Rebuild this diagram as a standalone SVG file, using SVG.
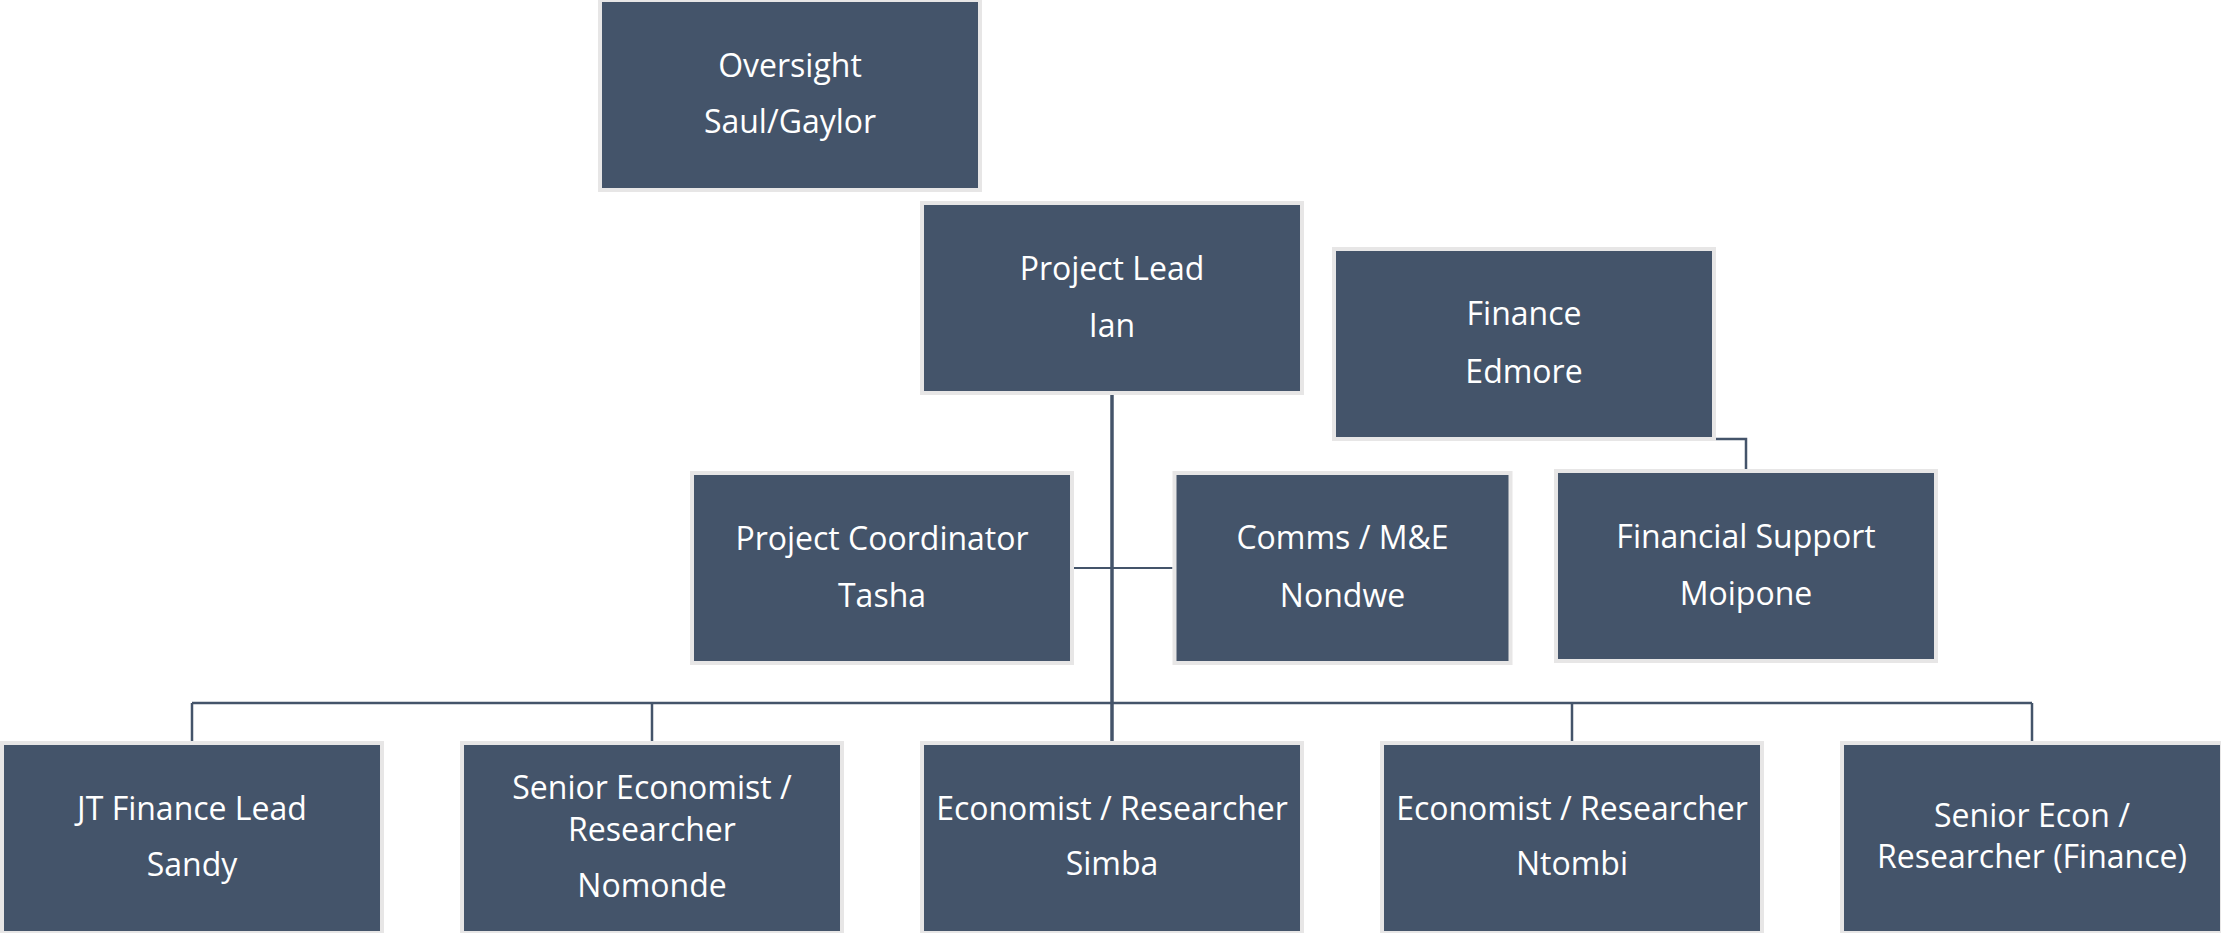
<svg xmlns="http://www.w3.org/2000/svg" width="2221" height="933" viewBox="0 0 2221 933">
<style>
  .box { fill: #44546A; stroke: #E7E6E6; stroke-width: 4; }
  .t { fill: #FFFFFF; font-family: "Open Sans", "Liberation Sans", sans-serif; font-size: 32px; text-anchor: middle; }
  .ln { fill: none; stroke: #44546A; stroke-width: 2.5; }
</style>
<rect width="2221" height="933" fill="#FFFFFF"/>
<g id="connectors">
  <path class="ln" d="M1112 395 V743" style="stroke-width:3.5"/>
  <path class="ln" d="M1074 568 H1172.5" style="stroke-width:2"/>
  <path class="ln" d="M192 703 H2032"/>
  <path class="ln" d="M192 703 V741"/>
  <path class="ln" d="M652 703 V741"/>
  <path class="ln" d="M1572 703 V741"/>
  <path class="ln" d="M2032 703 V741"/>
  <path class="ln" d="M1715 439 H1746 V469"/>
</g>
<g id="oversight">
  <rect class="box" x="600" y="0" width="380" height="190"/>
  <text class="t" x="790" y="77">Oversight</text>
  <text class="t" x="790" y="133">Saul/Gaylor</text>
</g>
<g id="project-lead">
  <rect class="box" x="922" y="203" width="380" height="190"/>
  <text class="t" x="1112" y="280">Project Lead</text>
  <text class="t" x="1112" y="337">Ian</text>
</g>
<g id="finance">
  <rect class="box" x="1334" y="249" width="380" height="190"/>
  <text class="t" x="1524" y="325">Finance</text>
  <text class="t" x="1524" y="383">Edmore</text>
</g>
<g id="project-coordinator">
  <rect class="box" x="692" y="473" width="380" height="190"/>
  <text class="t" x="882" y="550">Project Coordinator</text>
  <text class="t" x="882" y="607">Tasha</text>
</g>
<g id="comms">
  <rect class="box" x="1174.5" y="473" width="336" height="190"/>
  <text class="t" x="1342.5" y="549">Comms / M&amp;E</text>
  <text class="t" x="1342.5" y="607">Nondwe</text>
</g>
<g id="financial-support">
  <rect class="box" x="1556" y="471" width="380" height="190"/>
  <text class="t" x="1746" y="548">Financial Support</text>
  <text class="t" x="1746" y="605">Moipone</text>
</g>
<g id="jt-finance-lead">
  <rect class="box" x="2" y="743" width="380" height="190"/>
  <text class="t" x="192" y="820">JT Finance Lead</text>
  <text class="t" x="192" y="876">Sandy</text>
</g>
<g id="senior-economist">
  <rect class="box" x="462" y="743" width="380" height="190"/>
  <text class="t" x="652" y="799">Senior Economist /</text>
  <text class="t" x="652" y="841">Researcher</text>
  <text class="t" x="652" y="897">Nomonde</text>
</g>
<g id="economist-simba">
  <rect class="box" x="922" y="743" width="380" height="190"/>
  <text class="t" x="1112" y="820">Economist / Researcher</text>
  <text class="t" x="1112" y="875">Simba</text>
</g>
<g id="economist-ntombi">
  <rect class="box" x="1382" y="743" width="380" height="190"/>
  <text class="t" x="1572" y="820">Economist / Researcher</text>
  <text class="t" x="1572" y="875">Ntombi</text>
</g>
<g id="senior-econ-finance">
  <rect class="box" x="1842" y="743" width="380" height="190"/>
  <text class="t" x="2032" y="827">Senior Econ /</text>
  <text class="t" x="2032" y="868">Researcher (Finance)</text>
</g>
</svg>
